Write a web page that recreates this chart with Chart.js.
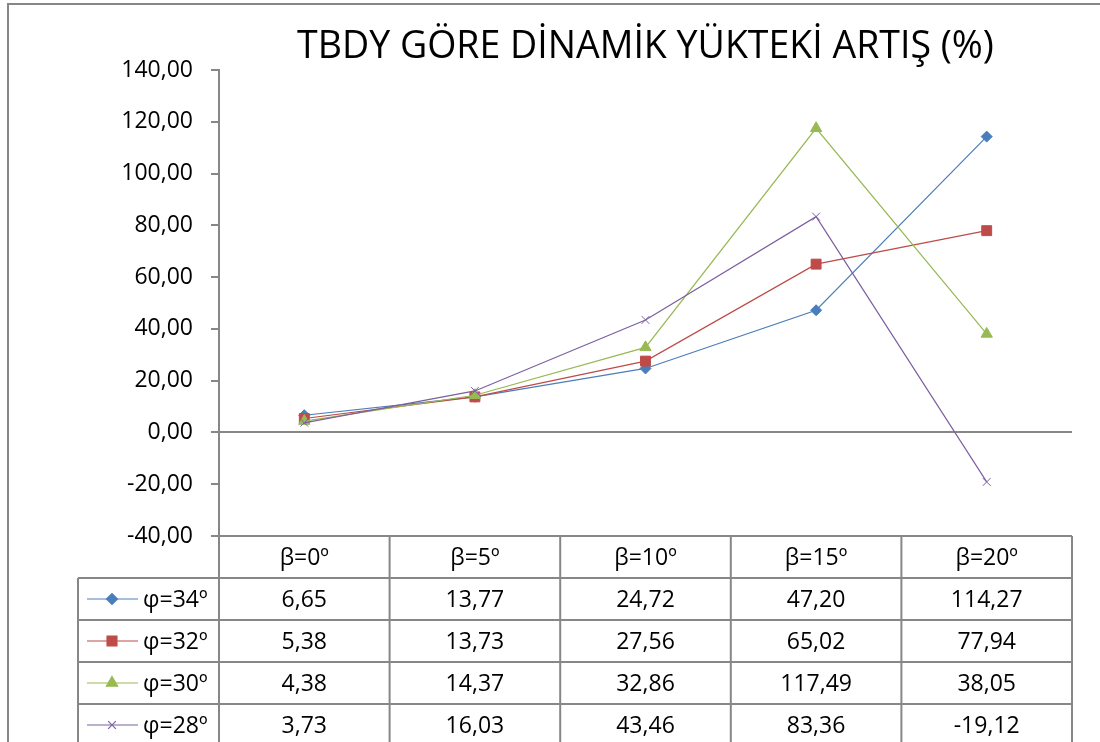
<!DOCTYPE html>
<html>
<head>
<meta charset="utf-8">
<title>TBDY GÖRE DİNAMİK YÜKTEKİ ARTIŞ (%)</title>
<script src="https://cdn.jsdelivr.net/npm/chart.js@4/dist/chart.umd.min.js"></script>
<style>
  body { margin: 0; background: #fff; }
  canvas { display: block; }
</style>
</head>
<body>
<canvas id="grafik" width="1100" height="742"></canvas>
<script>
// kategoriler ve seriler
const kategoriler = ["β=0º", "β=5º", "β=10º", "β=15º", "β=20º"];
const seriAdlari = ["φ=34º", "φ=32º", "φ=30º", "φ=28º"];
const phi34 = [6.65, 13.77, 24.72, 47.20, 114.27];
const phi32 = [5.38, 13.73, 27.56, 65.02, 77.94];
const phi30 = [4.38, 14.37, 32.86, 117.49, 38.05];
const phi28 = [3.73, 16.03, 43.46, 83.36, -19.12];
const eksenMin = -40;
const eksenMax = 140;
const eksenAdim = 20;

const renkler = ["#4A7EBB", "#BE4B48", "#98B954", "#7D60A0"];
const isaretler = ["rectRot", "rect", "triangle", "crossRot"];
const isaretBoyut = [5.5, 7, 6.5, 5.5];
const gri = "#878787";
const yaziFont = "'Open Sans', 'DejaVu Sans', sans-serif";

function sayiYaz(v) {
  return v.toFixed(2).replace(".", ",");
}

const seriler = [phi34, phi32, phi30, phi28];

// cerceve: sol ve ust kenar
const cercevePlugin = {
  id: "cerceve",
  beforeDraw(chart) {
    const ctx = chart.ctx;
    ctx.save();
    ctx.fillStyle = "#fff";
    ctx.fillRect(0, 0, chart.width, chart.height);
    ctx.strokeStyle = gri;
    ctx.lineWidth = 2;
    ctx.beginPath();
    ctx.moveTo(8, chart.height);
    ctx.lineTo(8, 4);
    ctx.lineTo(chart.width, 4);
    ctx.stroke();
    ctx.restore();
  }
};

// grafigin altindaki veri tablosu
const tabloPlugin = {
  id: "veriTablosu",
  afterDraw(chart) {
    const ctx = chart.ctx;
    const alan = chart.chartArea;
    const x = chart.scales.x;
    const satirY = 42;
    const tabloSol = 78;
    const ustY = alan.bottom;
    const altY = ustY + satirY * (seriler.length + 1);
    const sutun = (alan.right - alan.left) / kategoriler.length;

    ctx.save();
    ctx.strokeStyle = gri;
    ctx.lineWidth = 2;
    ctx.beginPath();
    // yatay cizgiler
    ctx.moveTo(alan.left, ustY);
    ctx.lineTo(alan.right, ustY);
    for (let r = 1; r <= seriler.length + 1; r++) {
      ctx.moveTo(tabloSol, ustY + r * satirY);
      ctx.lineTo(alan.right, ustY + r * satirY);
    }
    // dikey cizgiler
    for (let c = 0; c <= kategoriler.length; c++) {
      const cx = alan.left + c * sutun;
      ctx.moveTo(cx, ustY);
      ctx.lineTo(cx, altY);
    }
    ctx.moveTo(tabloSol, ustY + satirY);
    ctx.lineTo(tabloSol, altY);
    ctx.stroke();

    ctx.fillStyle = "#000";
    ctx.font = "23px " + yaziFont;
    ctx.textAlign = "center";
    ctx.textBaseline = "middle";

    kategoriler.forEach((k, i) => {
      ctx.fillText(k, x.getPixelForValue(i), ustY + satirY / 2 + 1);
    });

    seriler.forEach((veri, s) => {
      const yOrta = ustY + satirY * (s + 1) + satirY / 2 + 1;
      veri.forEach((v, i) => {
        ctx.fillText(sayiYaz(v), x.getPixelForValue(i), yOrta);
      });

      // lejant anahtari
      ctx.strokeStyle = renkler[s];
      ctx.lineWidth = 1.2;
      ctx.beginPath();
      ctx.moveTo(87, yOrta - 1);
      ctx.lineTo(138, yOrta - 1);
      ctx.stroke();
      ctx.fillStyle = renkler[s];
      Chart.helpers.drawPoint(ctx, {
        pointStyle: isaretler[s],
        radius: isaretBoyut[s],
        rotation: 0,
        borderWidth: 1
      }, 112, yOrta - 1);

      ctx.fillStyle = "#000";
      ctx.textAlign = "left";
      ctx.fillText(seriAdlari[s], 143, yOrta);
      ctx.textAlign = "center";
    });
    ctx.restore();
  }
};

const ctx = document.getElementById("grafik").getContext("2d");
new Chart(ctx, {
  type: "line",
  data: {
    labels: kategoriler,
    datasets: seriler.map((veri, s) => ({
      label: seriAdlari[s],
      data: veri,
      borderColor: renkler[s],
      backgroundColor: renkler[s],
      borderWidth: 1.2,
      pointStyle: isaretler[s],
      pointRadius: isaretBoyut[s],
      pointBorderWidth: 1,
      tension: 0,
      order: seriler.length - s
    }))
  },
  options: {
    responsive: false,
    animation: false,
    layout: {
      padding: { left: 0, right: 28, top: 4, bottom: 206 }
    },
    plugins: {
      legend: { display: false },
      tooltip: { enabled: false },
      title: {
        display: true,
        text: "TBDY GÖRE DİNAMİK YÜKTEKİ ARTIŞ (%)",
        fullSize: false,
        color: "#000",
        font: { family: yaziFont, size: 37.5, weight: "normal", lineHeight: 1.2 },
        padding: { top: 21, bottom: 0 }
      }
    },
    scales: {
      x: {
        display: false,
        offset: true
      },
      y: {
        min: eksenMin,
        max: eksenMax,
        afterFit(scale) {
          scale.width = 219;
        },
        ticks: {
          stepSize: eksenAdim,
          padding: 18,
          color: "#000",
          font: { family: yaziFont, size: 23 },
          callback: (v) => sayiYaz(v)
        },
        grid: {
          color: (c) => (c.tick && c.tick.value === 0 ? gri : "rgba(0,0,0,0)"),
          lineWidth: 2,
          tickColor: gri,
          tickLength: 8
        },
        border: { display: true, color: gri, width: 2 }
      }
    }
  },
  plugins: [cercevePlugin, tabloPlugin]
});
</script>
</body>
</html>
